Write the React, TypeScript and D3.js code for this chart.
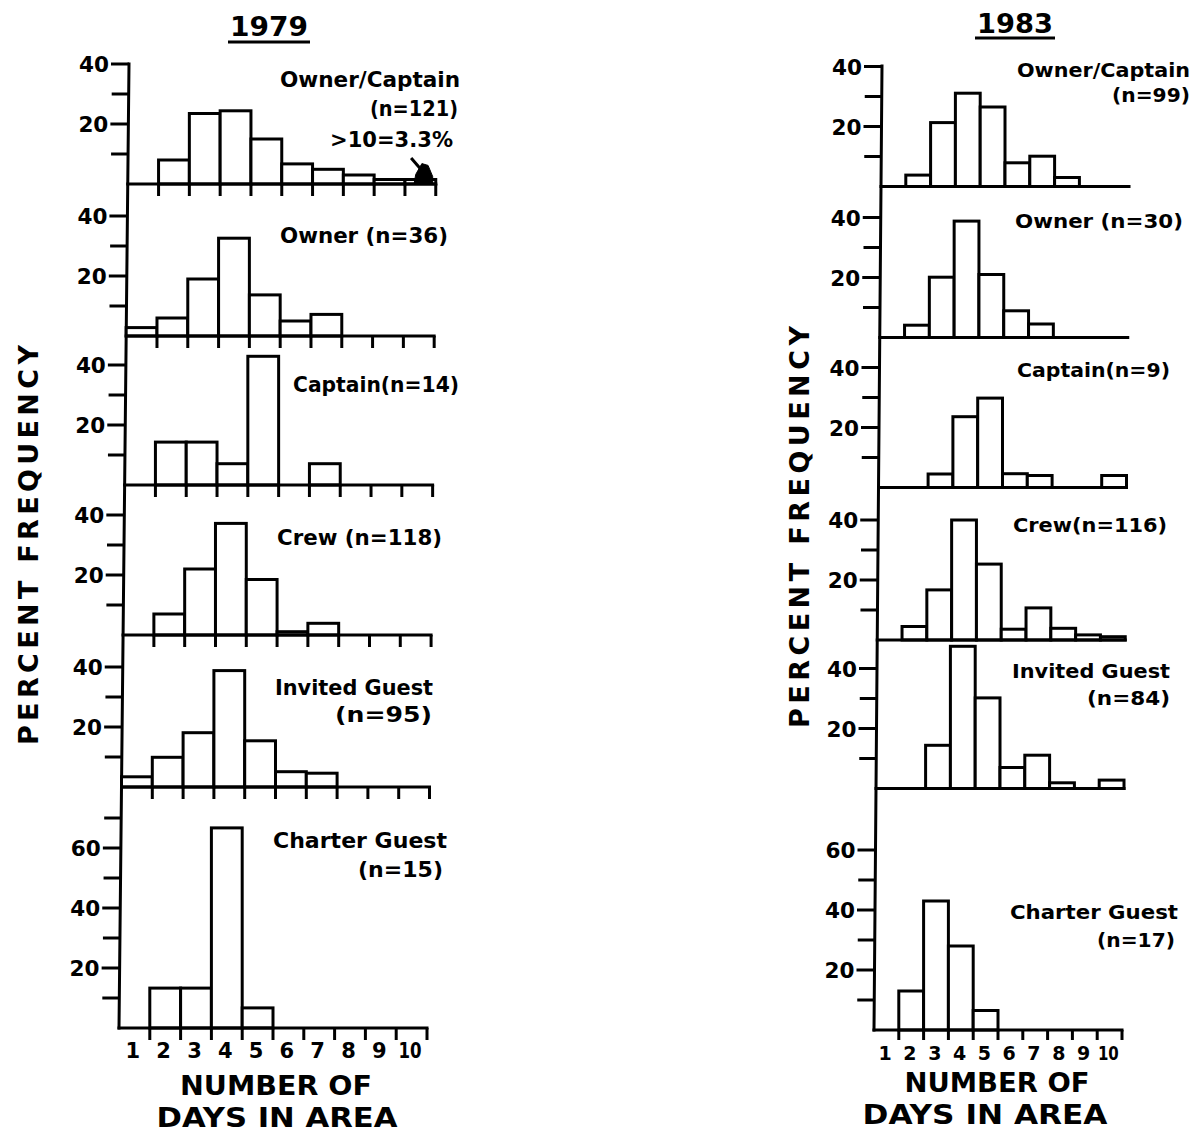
import React from "react";
import * as d3 from "d3";

// ---------- data (percent frequency by number of days in area, bins 1..10) ----------
const DAYS = [1, 2, 3, 4, 5, 6, 7, 8, 9, 10];

const OWNER_CAPTAIN_1979 = [0, 8, 23.5, 24.4, 15, 6.7, 4.9, 3, 1.5, 1.5];
const OWNER_1979 = [2.8, 6, 19, 32.6, 13.7, 5, 7.2, 0, 0, 0];
const CAPTAIN_1979 = [0, 14.3, 14.3, 7.1, 42.9, 0, 7.1, 0, 0, 0];
const CREW_1979 = [0, 7, 22, 37.2, 18.5, 1.1, 3.9, 0, 0, 0];
const INVITED_1979 = [3.4, 9.9, 18.1, 38.8, 15.4, 5.1, 4.6, 0, 0, 0];
const CHARTER_1979 = [0, 13.3, 13.3, 66.7, 6.7, 0, 0, 0, 0, 0];

const OWNER_CAPTAIN_1983 = [0, 3.8, 21.3, 31.1, 26.5, 7.9, 10.1, 3, 0, 0];
const OWNER_1983 = [0, 4.1, 20.1, 38.8, 21, 8.9, 4.5, 0, 0, 0];
const CAPTAIN_1983 = [0, 0, 4.5, 23.6, 29.8, 4.6, 4, 0, 0, 4];
const CREW_1983 = [0, 4.5, 16.7, 40, 25.3, 3.6, 10.7, 3.9, 1.7, 1.1];
const INVITED_1983 = [0, 0, 14.4, 47.4, 30.2, 7, 11.1, 1.9, 0, 2.8];
const CHARTER_1983 = [0, 13, 43, 28, 6.5, 0, 0, 0, 0, 0];

const LABELS_1979 = [
  ["Owner/Captain", "(n=121)"],
  ["Owner (n=36)"],
  ["Captain(n=14)"],
  ["Crew (n=118)"],
  ["Invited Guest", "(n=95)"],
  ["Charter Guest", "(n=15)"],
];
const LABELS_1983 = [
  ["Owner/Captain", "(n=99)"],
  ["Owner (n=30)"],
  ["Captain(n=9)"],
  ["Crew(n=116)"],
  ["Invited Guest", "(n=84)"],
  ["Charter Guest", "(n=17)"],
];

const MAJOR_TICKS = [20, 40];
const MINOR_TICKS = [10, 30];
const MAJOR_TICKS_TALL = [20, 40, 60];
const MINOR_TICKS_TALL_1979 = [10, 30, 50, 70];
const MINOR_TICKS_TALL_1983 = [10, 30, 50];

const ANNOTATION_TEXT = ">10=3.3%";
const Y_TITLE = "PERCENT FREQUENCY";
const X_TITLE_1 = "NUMBER OF";
const X_TITLE_2 = "DAYS IN AREA";

// ---------- layout ----------
const W = 1195;
const H = 1132;
const FONT = "'DejaVu Sans', sans-serif";
const SW = 3;

type LabelPos = { x: number; y: number; w: number };

const CHARTS = [
  {
    year: "1979",
    series: [OWNER_CAPTAIN_1979, OWNER_1979, CAPTAIN_1979, CREW_1979, INVITED_1979, CHARTER_1979],
    labels: LABELS_1979,
    labelPos: [
      [{ x: 460, y: 87, w: 180 }, { x: 458, y: 116, w: 88 }],
      [{ x: 448, y: 243, w: 168 }],
      [{ x: 459, y: 392, w: 166 }],
      [{ x: 442, y: 545, w: 165 }],
      [{ x: 433, y: 695, w: 158 }, { x: 432, y: 722, w: 97 }],
      [{ x: 447, y: 848, w: 174 }, { x: 443, y: 877, w: 85 }],
    ] as LabelPos[][],
    labelSize: 21,
    axisTop: { x: 129, y: 64 },
    axisBottom: { x: 119, y: 1028 },
    baselines: [184, 336, 485, 635, 787, 1028],
    binW: 30.8,
    pxPerUnit: 3.0,
    minorTall: MINOR_TICKS_TALL_1979,
    ticksAllPanels: true,
    xTickLen: 12,
    title: { x: 269, y: 36, w: 78, ux1: 228, ux2: 310, uy: 42 },
    yTitle: { x: 28, y: 545, w: 400 },
    xTitle1: { x: 276, y: 1095, w: 192 },
    xTitle2: { x: 277, y: 1127, w: 241 },
    dayLabelY: 1058,
    dayLabelSize: 21,
  },
  {
    year: "1983",
    series: [OWNER_CAPTAIN_1983, OWNER_1983, CAPTAIN_1983, CREW_1983, INVITED_1983, CHARTER_1983],
    labels: LABELS_1983,
    labelPos: [
      [{ x: 1190, y: 77, w: 173 }, { x: 1190, y: 102, w: 78 }],
      [{ x: 1183, y: 228, w: 168 }],
      [{ x: 1170, y: 377, w: 153 }],
      [{ x: 1167, y: 532, w: 154 }],
      [{ x: 1170, y: 678, w: 158 }, { x: 1170, y: 705, w: 83 }],
      [{ x: 1178, y: 919, w: 168 }, { x: 1175, y: 947, w: 78 }],
    ] as LabelPos[][],
    labelSize: 19,
    axisTop: { x: 882, y: 66 },
    axisBottom: { x: 874, y: 1030 },
    baselines: [186.5, 337.5, 487.5, 640, 788.5, 1030],
    binW: 24.8,
    pxPerUnit: 3.0,
    minorTall: MINOR_TICKS_TALL_1983,
    ticksAllPanels: false,
    xTickLen: 10,
    title: { x: 1015, y: 33, w: 76, ux1: 975, ux2: 1055, uy: 38 },
    yTitle: { x: 799, y: 527, w: 402 },
    xTitle1: { x: 997, y: 1092, w: 185 },
    xTitle2: { x: 985, y: 1124, w: 245 },
    dayLabelY: 1060,
    dayLabelSize: 19,
  },
];

function Chart({ c }: { c: (typeof CHARTS)[number] }) {
  const skew = d3
    .scaleLinear()
    .domain([c.axisTop.y, c.axisBottom.y])
    .range([c.axisTop.x, c.axisBottom.x]);
  const nPanels = c.series.length;

  return (
    <g>
      {/* year title */}
      <text
        x={c.title.x}
        y={c.title.y}
        textAnchor="middle"
        fontSize={26}
        fontWeight="bold"
        fontFamily={FONT}
        textLength={c.title.w}
        lengthAdjust="spacingAndGlyphs"
      >
        {c.year}
      </text>
      <line x1={c.title.ux1} x2={c.title.ux2} y1={c.title.uy} y2={c.title.uy} stroke="#000" strokeWidth={SW} />

      {/* y axis title */}
      <text
        transform={`translate(${c.yTitle.x},${c.yTitle.y}) rotate(-90)`}
        textAnchor="middle"
        dominantBaseline="central"
        fontSize={27}
        fontWeight="bold"
        fontFamily={FONT}
        textLength={c.yTitle.w}
        lengthAdjust="spacing"
      >
        {Y_TITLE}
      </text>

      {/* continuous y axis line */}
      <line
        x1={c.axisTop.x}
        y1={c.axisTop.y}
        x2={c.axisBottom.x}
        y2={c.axisBottom.y}
        stroke="#000"
        strokeWidth={SW}
        strokeLinecap="square"
      />

      {c.series.map((vals, pi) => {
        const base = c.baselines[pi];
        const ax = skew(base);
        const x = d3.scaleLinear().domain([0, 10]).range([ax, ax + c.binW * 10]);
        const y = d3.scaleLinear().domain([0, 10]).range([base, base - 10 * c.pxPerUnit]);
        const last = pi === nPanels - 1;
        const majors = last ? MAJOR_TICKS_TALL : MAJOR_TICKS;
        const minors = last ? c.minorTall : MINOR_TICKS;
        const showXTicks = c.ticksAllPanels || last;
        return (
          <g key={pi}>
            {/* bars */}
            {vals.map((v, i) =>
              v > 0 ? (
                <rect
                  key={i}
                  x={x(DAYS[i] - 1)}
                  y={y(v)}
                  width={x(DAYS[i]) - x(DAYS[i] - 1)}
                  height={base - y(v)}
                  fill="#fff"
                  stroke="#000"
                  strokeWidth={SW}
                />
              ) : null
            )}
            {/* baseline */}
            <line x1={ax} x2={x(10)} y1={base} y2={base} stroke="#000" strokeWidth={SW} strokeLinecap="square" />
            {/* x ticks */}
            {showXTicks &&
              DAYS.map((d) => (
                <line
                  key={d}
                  x1={x(d)}
                  x2={x(d)}
                  y1={base}
                  y2={base + c.xTickLen}
                  stroke="#000"
                  strokeWidth={SW}
                />
              ))}
            {/* y ticks */}
            {majors.map((t) => (
              <g key={"M" + t}>
                <line x1={skew(y(t)) - 18} x2={skew(y(t))} y1={y(t)} y2={y(t)} stroke="#000" strokeWidth={SW} />
                <text
                  x={skew(y(t)) - 20}
                  y={y(t) + 8}
                  textAnchor="end"
                  fontSize={22}
                  fontWeight="bold"
                  fontFamily={FONT}
                  textLength={30}
                  lengthAdjust="spacingAndGlyphs"
                >
                  {t}
                </text>
              </g>
            ))}
            {minors.map((t) => (
              <line
                key={"m" + t}
                x1={skew(y(t)) - 17}
                x2={skew(y(t))}
                y1={y(t)}
                y2={y(t)}
                stroke="#000"
                strokeWidth={SW}
              />
            ))}
            {/* panel labels */}
            {c.labels[pi].map((s, li) => {
              const p = c.labelPos[pi][li];
              return (
                <text
                  key={li}
                  x={p.x}
                  y={p.y}
                  textAnchor="end"
                  fontSize={c.labelSize}
                  fontWeight="bold"
                  fontFamily={FONT}
                  textLength={p.w}
                  lengthAdjust="spacingAndGlyphs"
                >
                  {s}
                </text>
              );
            })}
            {/* day labels on bottom panel */}
            {last &&
              DAYS.map((d) => (
                <text
                  key={"d" + d}
                  x={x(d - 0.55)}
                  y={c.dayLabelY}
                  textAnchor="middle"
                  fontSize={c.dayLabelSize}
                  fontWeight="bold"
                  fontFamily={FONT}
                  textLength={d === 10 ? c.dayLabelSize * 1.1 : undefined}
                  lengthAdjust="spacingAndGlyphs"
                >
                  {d}
                </text>
              ))}
            {/* annotation on the first 1979 panel */}
            {c.year === "1979" && pi === 0 && (
              <g>
                <text
                  x={453}
                  y={147}
                  textAnchor="end"
                  fontSize={21}
                  fontWeight="bold"
                  fontFamily={FONT}
                  textLength={123}
                  lengthAdjust="spacingAndGlyphs"
                >
                  {ANNOTATION_TEXT}
                </text>
                <line x1={x(9.2)} y1={y(8.7)} x2={x(9.55)} y2={y(4.5)} stroke="#000" strokeWidth={SW} />
                <path
                  d={d3.line()([
                    [x(9.35), y(3.2)],
                    [x(9.55), y(6.8)],
                    [x(9.75), y(6.2)],
                    [x(9.9), y(2.5)],
                    [x(9.9), y(0.3)],
                    [x(9.3), y(0.3)],
                  ]) + "Z"}
                  fill="#000"
                  stroke="#000"
                  strokeWidth={1}
                />
              </g>
            )}
          </g>
        );
      })}

      {/* x axis title */}
      <text
        x={c.xTitle1.x}
        y={c.xTitle1.y}
        textAnchor="middle"
        fontSize={27}
        fontWeight="bold"
        fontFamily={FONT}
        textLength={c.xTitle1.w}
        lengthAdjust="spacingAndGlyphs"
      >
        {X_TITLE_1}
      </text>
      <text
        x={c.xTitle2.x}
        y={c.xTitle2.y}
        textAnchor="middle"
        fontSize={27}
        fontWeight="bold"
        fontFamily={FONT}
        textLength={c.xTitle2.w}
        lengthAdjust="spacingAndGlyphs"
      >
        {X_TITLE_2}
      </text>
    </g>
  );
}

export default function App() {
  return (
    <svg
      width={W}
      height={H}
      viewBox={`0 0 ${W} ${H}`}
      style={{ position: "absolute", left: 0, top: 0, display: "block", background: "#fff" }}
    >
      <rect x={0} y={0} width={W} height={H} fill="#fff" />
      {CHARTS.map((c) => (
        <Chart key={c.year} c={c} />
      ))}
    </svg>
  );
}
